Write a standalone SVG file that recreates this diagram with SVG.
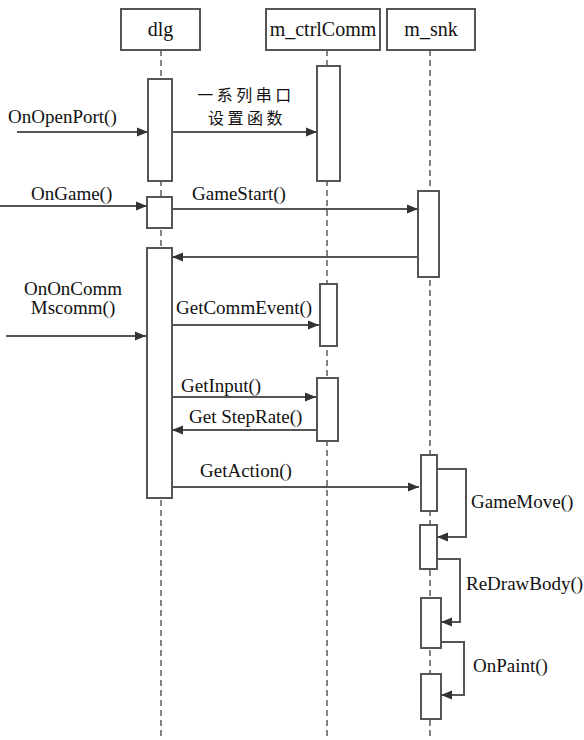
<svg xmlns="http://www.w3.org/2000/svg" width="584" height="740" viewBox="0 0 584 740">
<defs>
<marker id="ah" markerUnits="userSpaceOnUse" markerWidth="12" markerHeight="10" refX="11" refY="5" orient="auto">
<path d="M0,0.5 L11,5 L0,9.5 z" fill="#333"/>
</marker>
<style>
.hdr{fill:#fff;stroke:#555;stroke-width:2}
.life{stroke:#666;stroke-width:1.6;stroke-dasharray:6,4;fill:none}
.bar{fill:#fff;stroke:#555;stroke-width:2}
.msg{stroke:#555;stroke-width:2;fill:none;marker-end:url(#ah)}
.t{font-size:19px;fill:#111}
.th{font-size:20px;fill:#111;text-anchor:middle}
.cjk{font-size:16px;fill:#111;text-anchor:middle;letter-spacing:3.5px}
</style>
</defs>
<rect width="584" height="740" fill="#fff"/>
<g id="lifelines">
<line class="life" x1="161" y1="50" x2="161" y2="740"/>
<line class="life" x1="327" y1="50" x2="327" y2="740"/>
<line class="life" x1="430" y1="50" x2="430" y2="740"/>
</g>
<g font-family="Liberation Serif, serif">
<g id="dlg"><rect class="hdr" x="121" y="9" width="79" height="41"/><text class="th" x="160.5" y="36">dlg</text></g>
<g id="m_ctrlComm"><rect class="hdr" x="266" y="9" width="114" height="41"/><text class="th" x="323" y="36">m_ctrlComm</text></g>
<g id="m_snk"><rect class="hdr" x="387" y="9" width="88" height="41"/><text class="th" x="431" y="36">m_snk</text></g>
</g>
<g id="activations">
<rect class="bar" x="148" y="79" width="24" height="102"/>
<rect class="bar" x="317" y="66" width="23" height="115"/>
<rect class="bar" x="147" y="197" width="25" height="31"/>
<rect class="bar" x="418" y="191" width="21" height="86"/>
<rect class="bar" x="147" y="248" width="25" height="250"/>
<rect class="bar" x="320" y="284" width="17" height="62"/>
<rect class="bar" x="317" y="378" width="21" height="63"/>
<rect class="bar" x="421" y="455" width="16" height="56"/>
<rect class="bar" x="420" y="525" width="17" height="44"/>
<rect class="bar" x="421" y="598" width="20" height="50"/>
<rect class="bar" x="421" y="674" width="20" height="45"/>
</g>
<g id="connectors">
<line class="msg" x1="17" y1="132" x2="148" y2="132"/>
<line class="msg" x1="172" y1="132" x2="317" y2="132"/>
<line class="msg" x1="0" y1="206" x2="147" y2="206"/>
<line class="msg" x1="172" y1="209" x2="418" y2="209"/>
<line class="msg" x1="418" y1="257" x2="172" y2="257"/>
<line class="msg" x1="6" y1="336" x2="146" y2="336"/>
<line class="msg" x1="172" y1="325" x2="319" y2="325"/>
<line class="msg" x1="172" y1="397" x2="316" y2="397"/>
<line class="msg" x1="317" y1="430" x2="172" y2="430"/>
<line class="msg" x1="172" y1="487" x2="419" y2="487"/>
<polyline class="msg" points="437,469 466,469 466,537 437,537"/>
<polyline class="msg" points="437,559 460,559 460,622 441,622"/>
<polyline class="msg" points="441,642 464,642 464,695 441,695"/>
</g>
<g id="labels" font-family="Liberation Serif, serif">
<text class="t" x="8" y="123">OnOpenPort()</text>
<text class="cjk" x="246" y="101" font-family="Noto Sans CJK SC, sans-serif">一系列串口</text>
<text class="cjk" x="247" y="124" font-family="Noto Sans CJK SC, sans-serif">设置函数</text>
<text class="t" x="31" y="200">OnGame()</text>
<text class="t" x="192" y="200">GameStart()</text>
<text class="t" x="73" y="295" text-anchor="middle" font-size="18">OnOnComm</text>
<text class="t" x="73" y="314" text-anchor="middle" font-size="18">Mscomm()</text>
<text class="t" x="176" y="314">GetCommEvent()</text>
<text class="t" x="181" y="392">GetInput()</text>
<text class="t" x="189" y="423">Get StepRate()</text>
<text class="t" x="200" y="477">GetAction()</text>
<text class="t" x="471" y="508">GameMove()</text>
<text class="t" x="466" y="590">ReDrawBody()</text>
<text class="t" x="473" y="672">OnPaint()</text>
</g>
</svg>
